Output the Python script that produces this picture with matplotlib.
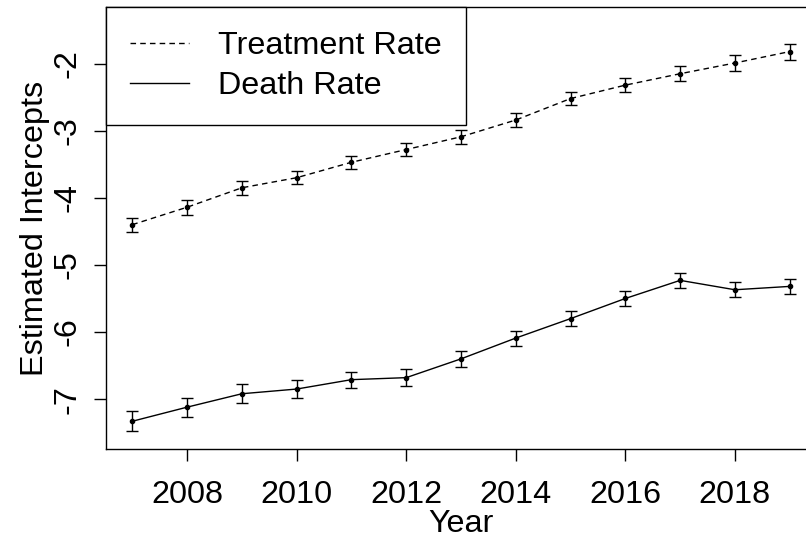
import numpy as np
import matplotlib
matplotlib.use("Agg")
import matplotlib.pyplot as plt

plt.rcParams["font.family"] = ["Liberation Sans", "DejaVu Sans"]

years = np.arange(2007, 2020)

treat_est = [-4.40, -4.14, -3.85, -3.70, -3.47, -3.28, -3.09,
             -2.84, -2.52, -2.32, -2.15, -1.99, -1.82]
treat_se = [0.104, 0.110, 0.107, 0.100, 0.100, 0.100, 0.104,
            0.104, 0.100, 0.100, 0.110, 0.114, 0.120]

death_est = [-7.33, -7.12, -6.92, -6.85, -6.71, -6.68, -6.40,
             -6.09, -5.80, -5.50, -5.23, -5.37, -5.32]
death_se = [0.148, 0.141, 0.138, 0.129, 0.119, 0.129, 0.116,
            0.111, 0.108, 0.107, 0.108, 0.111, 0.116]

fig = plt.figure(figsize=(8.06, 5.41), dpi=100)
ax = fig.add_axes([0.1315, 0.170, 0.8809, 0.817])

fs = 23.3

ax.errorbar(years, treat_est, yerr=treat_se, color="black", lw=1.0,
            ls=(0, (4, 3)), marker="o", ms=3, capsize=4, capthick=1.0,
            elinewidth=1.0, label="Treatment Rate")
ax.errorbar(years, death_est, yerr=death_se, color="black", lw=1.0,
            ls="-", marker="o", ms=3, capsize=4, capthick=1.0,
            elinewidth=1.0, label="Death Rate")

# R-style axis limits (4% padding)
ax.set_xlim(2006.52, 2019.48)
ax.set_ylim(-7.744, -1.156)

ax.set_xticks([2008, 2010, 2012, 2014, 2016, 2018])
ax.set_yticks([-7, -6, -5, -4, -3, -2])
ax.set_yticklabels(["-7", "-6", "-5", "-4", "-3", "-2"], rotation=90,
                   va="center")
ax.tick_params(axis="both", direction="out", length=8.6, width=1.0,
               labelsize=fs)
ax.tick_params(axis="x", pad=14)
ax.tick_params(axis="y", pad=8)

for s in ax.spines.values():
    s.set_linewidth(1.0)

ax.set_xlabel("Year", fontsize=fs, labelpad=-1)
ax.set_ylabel("Estimated Intercepts", fontsize=fs, labelpad=2)

handles = [plt.Line2D([], [], color="black", lw=1.0, ls=(0, (4, 3))),
           plt.Line2D([], [], color="black", lw=1.0)]
leg = ax.legend(handles, ["Treatment Rate", "Death Rate"], loc="upper left",
                fontsize=fs, frameon=True, fancybox=False, framealpha=1,
                edgecolor="black", borderaxespad=0, handlelength=1.82,
                handletextpad=0.9, labelspacing=0.3, borderpad=0.75)
leg.get_frame().set_linewidth(1.0)

fig.savefig("out.png", dpi=100)
